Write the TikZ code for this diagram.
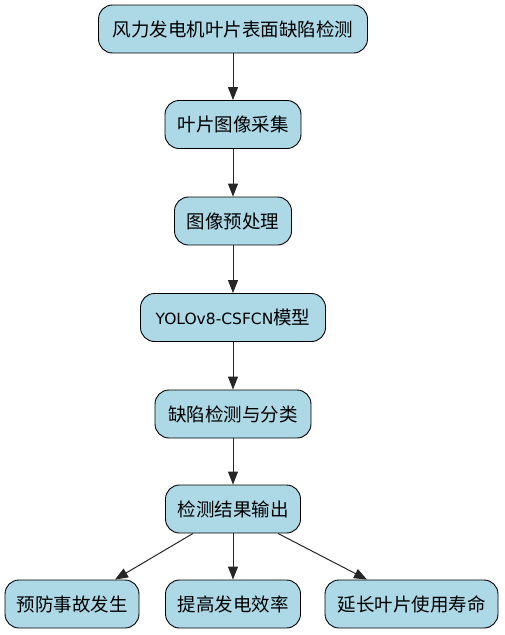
\documentclass[tikz,border=0pt]{standalone}
\usepackage{fontspec}
\setmainfont{DejaVu Sans}
\newfontfamily\cjk{Noto Sans CJK SC}
\usetikzlibrary{arrows.meta}
\definecolor{lblue}{HTML}{ADD8E6}
\begin{document}
\begin{tikzpicture}[x=1pt,y=-1pt,
  box/.style={draw=black, line width=0.9pt, fill=lblue, rounded corners=14pt,
    minimum height=48pt, inner sep=0pt, font=\cjk\fontsize{18.5}{21}\selectfont, text=black},
  conn/.style={draw=black!85, line width=1pt, -{Triangle[length=13pt,width=10pt]}}]
\useasboundingbox (0,0) rectangle (504,635);
\node[box, minimum width=269pt] (n1) at (233,29) {风力发电机叶片表面缺陷检测};
\node[box, minimum width=136pt] (n2) at (233,124.5) {叶片图像采集};
\node[box, minimum width=117pt] (n3) at (233,221) {图像预处理};
\node[box, minimum width=185pt] (n4) at (233,317.5) {{\fontspec{DejaVu Sans}\fontsize{15.5}{18}\selectfont YOLOv8-CSFCN}模型};
\node[box, minimum width=156pt] (n5) at (233,414) {缺陷检测与分类};
\node[box, minimum width=135pt] (n6) at (233,509) {检测结果输出};
\node[box, minimum width=134pt] (n7) at (72,604) {预防事故发生};
\node[box, minimum width=135pt] (n8) at (233,604) {提高发电效率};
\node[box, minimum width=173pt] (n9) at (411.5,604) {延长叶片使用寿命};
\path (n6.south) ++(-40,0) coordinate (s1);
\path (n6.south) ++(45,0) coordinate (s3);
\path (n7.north) ++(43,0) coordinate (t1);
\path (n9.north) ++(-44.5,0) coordinate (t3);
\draw[conn] (n1) -- (n2);
\draw[conn] (n2) -- (n3);
\draw[conn] (n3) -- (n4);
\draw[conn] (n4) -- (n5);
\draw[conn] (n5) -- (n6);
\draw[conn] (n6) -- (n8);
\draw[conn] (s1) -- (t1);
\draw[conn] (s3) -- (t3);
\end{tikzpicture}
\end{document}
